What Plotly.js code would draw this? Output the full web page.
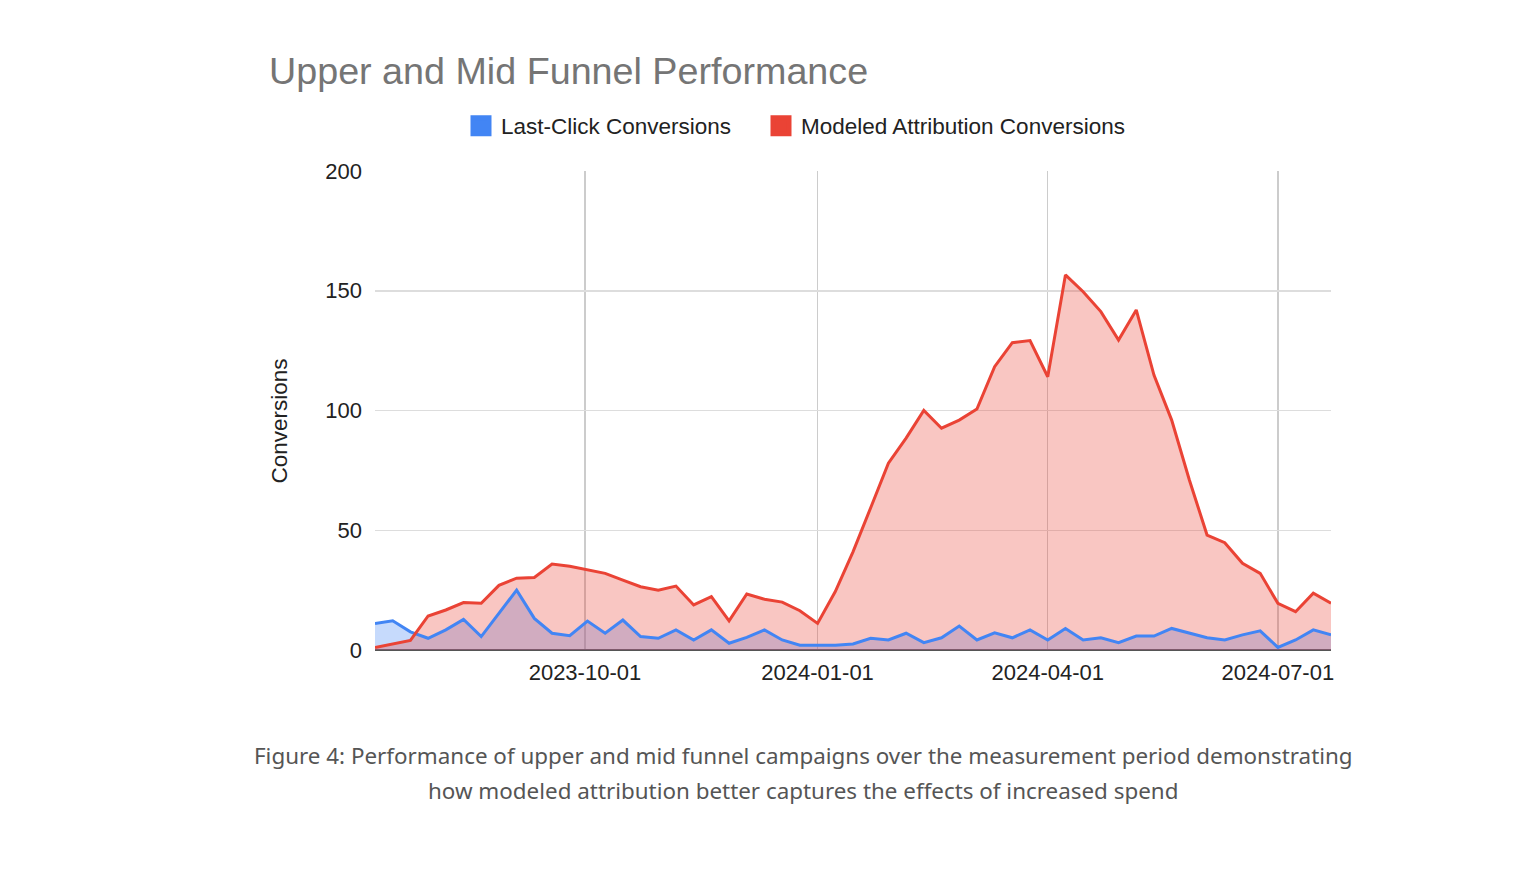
<!DOCTYPE html>
<html>
<head>
<meta charset="utf-8">
<script src="https://cdn.plot.ly/plotly-3.0.1.min.js"></script>
<style>
  html, body { margin: 0; padding: 0; background: #fff; }
  #chart { width: 1526px; height: 880px; }
</style>
</head>
<body>
<div id="chart"></div>
<script>
// Weekly dates (Mondays) from 2023-07-10 to 2024-07-22
const startDate = "2023-07-10";
const weeks = 55;
const dates = [];
(function () {
  const d0 = new Date(startDate + "T00:00:00Z");
  for (let i = 0; i < weeks; i++) {
    const d = new Date(d0.getTime() + i * 7 * 86400000);
    dates.push(d.toISOString().slice(0, 10));
  }
})();

const lastClick = [
  11.1, 12.2, 7.6, 4.9, 8.4, 12.8, 5.6, 15.3, 25, 13.2,
  7, 6, 12.1, 7, 12.5, 5.6, 4.9, 8.4, 4.2, 8.4,
  2.8, 5.3, 8.4, 4.2, 2, 2, 2, 2.5, 4.9, 4.2,
  7, 3.1, 5.1, 10, 4.2, 7.2, 5.1, 8.4, 4.2, 9,
  4.2, 5.1, 3.1, 5.8, 5.8, 9, 7.2, 5.1, 4.2, 6.3,
  8, 1.1, 4.2, 8.4, 6.3
];

const modeled = [
  1, 2.5, 4, 14.2, 16.7, 19.8, 19.5, 27, 30, 30.3,
  35.9, 35, 33.4, 32, 29.2, 26.4, 25, 26.7, 18.8, 22.3,
  12.2, 23.4, 21.2, 20, 16.4, 11.1, 24.4, 41, 59.4, 78,
  88.5, 100, 92.6, 96, 100.6, 118.3, 128.3, 129.2, 114.1, 156.6,
  149.6, 141.3, 129.4, 142, 114.8, 96, 71, 48, 44.8, 36.2,
  32, 19.5, 16, 23.7, 19.5
];

const seriesNames = ["Last-Click Conversions", "Modeled Attribution Conversions"];
const chartTitle = "Upper and Mid Funnel Performance";
const yTitle = "Conversions";
const captionLines = [
  "Figure 4: Performance of upper and mid funnel campaigns over the measurement period demonstrating",
  "how modeled attribution better captures the effects of increased spend"
];
const blue = "#4285F4";
const red = "#EA4335";

const traces = [
  // fills
  { x: dates, y: lastClick, type: "scatter", mode: "none", fill: "tozeroy",
    fillcolor: "rgba(66,133,244,0.3)", showlegend: false, hoverinfo: "skip" },
  { x: dates, y: modeled, type: "scatter", mode: "none", fill: "tozeroy",
    fillcolor: "rgba(234,67,53,0.3)", showlegend: false, hoverinfo: "skip" },
  // lines on top
  { x: dates, y: lastClick, type: "scatter", mode: "lines",
    line: { color: blue, width: 3 }, showlegend: false },
  { x: dates, y: modeled, type: "scatter", mode: "lines",
    line: { color: red, width: 3 }, showlegend: false },
  // legend entries
  { x: [null], y: [null], type: "scatter", mode: "markers", name: seriesNames[0],
    legend: "legend",
    marker: { symbol: "square", color: blue, size: 16, line: { color: blue, width: 5 } } },
  { x: [null], y: [null], type: "scatter", mode: "markers", name: seriesNames[1],
    legend: "legend2",
    marker: { symbol: "square", color: red, size: 16, line: { color: red, width: 5 } } }
];

const px2y = (py) => (650 - py) / 479;
const px2x = (px) => (px - 375) / 956;

const legendBase = {
  orientation: "h", xanchor: "left", yanchor: "middle",
  y: px2y(126), font: { size: 22.5, color: "#222" }, itemwidth: 30,
  bgcolor: "rgba(0,0,0,0)"
};

const layout = {
  width: 1526, height: 880,
  paper_bgcolor: "#fff", plot_bgcolor: "#fff",
  margin: { l: 375, r: 195, t: 171, b: 230 },
  font: { family: "Liberation Sans, Arial, sans-serif", color: "#222" },
  title: {
    text: chartTitle,
    font: { size: 37.7, color: "#757575", family: "Liberation Sans, Arial, sans-serif" },
    x: 269 / 1526, xanchor: "left", xref: "container",
    y: 1 - 71 / 880, yanchor: "middle", yref: "container"
  },
  showlegend: true,
  legend: Object.assign({}, legendBase, { x: px2x(481 - 20) }),
  legend2: Object.assign({}, legendBase, { x: px2x(781 - 20) }),
  xaxis: {
    type: "date",
    range: [dates[0], dates[dates.length - 1]],
    tick0: "2023-10-01", dtick: "M3", tickformat: "%Y-%m-%d",
    showgrid: true, gridcolor: "#cccccc", gridwidth: 1.5,
    zeroline: false, showline: false,
    ticks: "", ticklabelstandoff: 7,
    tickfont: { size: 22, color: "#222" }
  },
  yaxis: {
    range: [0, 200], dtick: 50,
    showgrid: true, gridcolor: "#dddddd", gridwidth: 1.5,
    zeroline: true, zerolinecolor: "#555", zerolinewidth: 1.5,
    ticks: "", ticklabelstandoff: 12,
    tickfont: { size: 22, color: "#222" }
  },
  annotations: [
    {
      text: yTitle, textangle: -90,
      xref: "paper", yref: "paper", x: px2x(279), xanchor: "center",
      y: px2y(421.5), yanchor: "middle", showarrow: false,
      font: { size: 22.5, color: "#222" }
    },
    {
      text: captionLines[0],
      xref: "paper", yref: "paper", x: px2x(803), xanchor: "center",
      y: px2y(755), yanchor: "middle", showarrow: false,
      font: { family: "Noto Sans, Open Sans, sans-serif", size: 22.4, color: "#555" }
    },
    {
      text: captionLines[1],
      xref: "paper", yref: "paper", x: px2x(803), xanchor: "center",
      y: px2y(791), yanchor: "middle", showarrow: false,
      font: { family: "Noto Sans, Open Sans, sans-serif", size: 22.4, color: "#555" }
    }
  ]
};

Plotly.newPlot("chart", traces, layout, { displayModeBar: false, staticPlot: true });
</script>
</body>
</html>
